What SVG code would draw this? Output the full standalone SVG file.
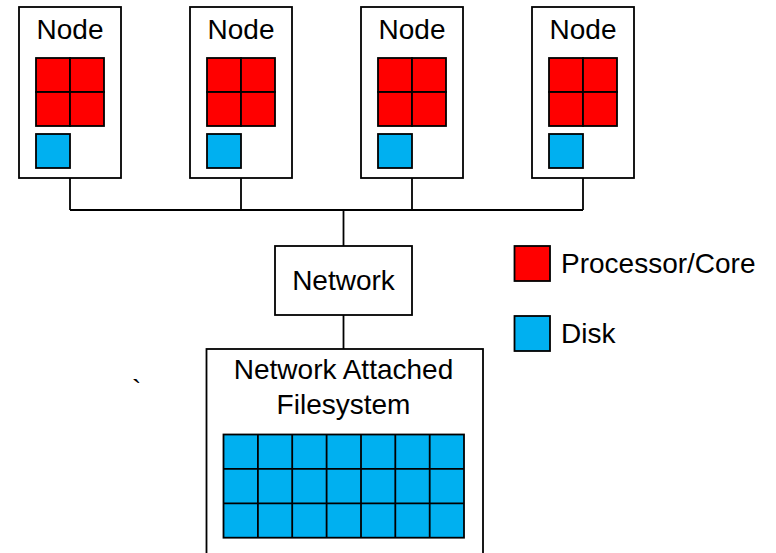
<svg xmlns="http://www.w3.org/2000/svg" width="776" height="553" viewBox="0 0 776 553">
  <style>
    .box { fill: #ffffff; stroke: #000000; stroke-width: 1.8; }
    .core { fill: #ff0000; stroke: #000000; stroke-width: 1.8; }
    .disk { fill: #00b0f0; stroke: #000000; stroke-width: 1.8; }
    .wire { fill: none; stroke: #000000; stroke-width: 1.8; }
    .label { font-family: "Liberation Sans", Arial, sans-serif; font-size: 28px; fill: #000000; }
    .mid { text-anchor: middle; }
  </style>
  <defs>
    <!-- compute node: outline, 2x2 processor cores and one local disk -->
    <g id="computeNode">
      <rect class="box" x="0" y="0" width="102" height="171"/>
      <text class="label mid" x="51" y="32">Node</text>
      <rect class="core" x="17" y="51" width="34" height="34"/>
      <rect class="core" x="51" y="51" width="34" height="34"/>
      <rect class="core" x="17" y="85" width="34" height="34"/>
      <rect class="core" x="51" y="85" width="34" height="34"/>
      <rect class="disk" x="17" y="127" width="34" height="34"/>
    </g>
  </defs>

  <!-- wiring between nodes, network and filesystem -->
  <g id="connectors">
    <path class="wire" d="M70,178 V210 M241,178 V210 M412,178 V210 M583,178 V210 M70,210 H583"/>
    <path class="wire" d="M343.5,210 V246"/>
    <path class="wire" d="M343.5,315 V349"/>
  </g>

  <g id="node1"><use href="#computeNode" x="19" y="7"/></g>
  <g id="node2"><use href="#computeNode" x="190" y="7"/></g>
  <g id="node3"><use href="#computeNode" x="361" y="7"/></g>
  <g id="node4"><use href="#computeNode" x="532" y="7"/></g>

  <g id="network">
    <rect class="box" x="275" y="246" width="137" height="69"/>
    <text class="label mid" x="343.5" y="290">Network</text>
  </g>

  <g id="filesystem">
    <rect class="box" x="206.5" y="349" width="276.5" height="220"/>
    <text class="label mid" x="343.5" y="379">Network Attached</text>
    <text class="label mid" x="343.5" y="414">Filesystem</text>
    <g id="diskArray">
      <rect class="disk" x="223.5" y="434.5" width="240.5" height="103.2"/>
      <path class="wire" d="M257.9,434.5 V537.7 M292.2,434.5 V537.7 M326.6,434.5 V537.7 M361,434.5 V537.7 M395.3,434.5 V537.7 M429.7,434.5 V537.7 M223.5,468.9 H464 M223.5,503.3 H464"/>
    </g>
  </g>

  <g id="legend">
    <rect class="core" x="514.5" y="246" width="35.5" height="35"/>
    <text class="label" x="561" y="273">Processor/Core</text>
    <rect class="disk" x="514.5" y="316" width="35.5" height="35"/>
    <text class="label" x="561" y="343">Disk</text>
  </g>

  <text class="label" x="132" y="399">`</text>
</svg>
